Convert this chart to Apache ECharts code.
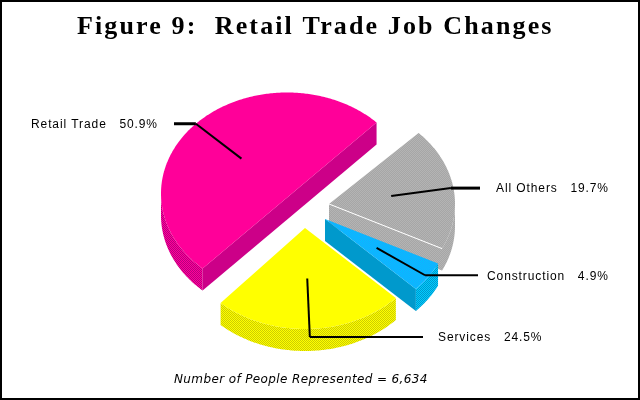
<!DOCTYPE html>
<html><head><meta charset="utf-8">
<style>html,body{margin:0;padding:0;background:#fff}#c{width:640px;height:400px}</style>
<script src="https://cdn.jsdelivr.net/npm/echarts@6/dist/echarts.min.js"></script>
</head><body><div id="c"></div>
<script>
const titleText = 'Figure 9:  Retail Trade Job Changes';
const noteText = 'Number of People Represented = 6,634';
const categories = ['Retail Trade', 'Services', 'Construction', 'All Others'];
const shares = [50.9, 24.5, 4.9, 19.7];

// layout and style, separate from the data
const firstAngle = 44.7, rx = 126, ry = 101, depth = 22;
const apexes = [[287, 193.5], [305, 228], [325, 219], [329, 204]];
const layers = [1, 4, 3, 2];
const topPaint = [['#FF0099', '#FF0099'], ['#FFFF00', '#FFFF00'], ['#00C4FF', '#1AA6FF'], ['#A6A6A6', '#B4B4B4']];
const facePaint = [['#CC0088', '#CC0088'], ['#CCCC00', '#CCCC00'], ['#0099CC', '#0099CC'], ['#A6A6A6', '#B4B4B4']];
const rimPaint = [['#FF0099', '#B8007F'], ['#FFFF00', '#CCCC00'], ['#00CCFF', '#0099CC'], ['#A6A6A6', '#B4B4B4']];
const elbowReach = [1.0, 1.08, 0.97, 0.98];
const leaderEndX = [174, 423, 478, 480];
const leaderWidth = [3, 2, 2, 3];
const labelX = [31, 438, 487, 496];
const labelGap = '   ';

// letter spacing for the wide bitmap-looking type of the reference
const plainFill = CanvasRenderingContext2D.prototype.fillText;
CanvasRenderingContext2D.prototype.fillText = function (t, x, y, m) {
  this.letterSpacing = this.font.includes('bold') ? '2.13px' : (this.font.includes('italic') ? '0.38px' : '0.9px');
  return m === undefined ? plainFill.call(this, t, x, y) : plainFill.call(this, t, x, y, m);
};

function dither(pair) {
  if (pair[0] === pair[1]) return pair[0];
  const c = document.createElement('canvas');
  c.width = c.height = 2;
  const g = c.getContext('2d');
  g.fillStyle = pair[0]; g.fillRect(0, 0, 2, 2);
  g.fillStyle = pair[1]; g.fillRect(0, 0, 1, 1); g.fillRect(1, 1, 1, 1);
  return { image: c, repeat: 'repeat' };
}
const rad = d => d * Math.PI / 180;
const total = shares.reduce((a, b) => a + b, 0);
const spans = []; {
  let a = firstAngle;
  shares.forEach(v => { const s = v / total * 360; spans.push([a, a + s]); a += s; });
}
function rim(c, t, k) { return [c[0] + rx * k * Math.cos(rad(t)), c[1] - ry * k * Math.sin(rad(t))]; }
function arcPts(c, t0, t1) {
  const n = Math.max(2, Math.ceil((t1 - t0) * 1.5)), out = [];
  for (let i = 0; i <= n; i++) out.push(rim(c, t0 + (t1 - t0) * i / n, 1));
  return out;
}
const drop = p => [p[0], p[1] + depth];
function extrude(pts) { return pts.concat(pts.slice().reverse().map(drop)); }
function poly(points, fill, z2) { return { type: 'polygon', z2, shape: { points }, style: { fill, stroke: null } }; }

function renderItem(params, api) {
  const i = params.dataIndex, v = api.value(0);
  const [t0, t1] = spans[i], c = apexes[i], z = layers[i], kids = [];
  const overHalf = t1 - t0 > 180;
  // curved side: only the lower half of the rim faces the viewer
  [[180, 360], [540, 720]].forEach(([lo, hi]) => {
    const a = Math.max(t0, lo), b = Math.min(t1, hi);
    if (b > a) kids.push(poly(extrude(arcPts(c, a, b)), dither(rimPaint[i]), z * 10));
  });
  // radial sides that face downward; a slice just over half has one straight cut
  if (overHalf) {
    kids.push(poly(extrude([rim(c, t0, 1), rim(c, t1, 1)]), dither(facePaint[i]), z * 10 + 1));
  } else {
    if (Math.sin(rad(t0 - 90)) < 0) kids.push(poly(extrude([rim(c, t0, 1), c]), dither(facePaint[i]), z * 10 + 1));
    if (Math.sin(rad(t1 + 90)) < 0) kids.push(poly(extrude([c, rim(c, t1, 1)]), dither(facePaint[i]), z * 10 + 1));
  }
  // top surface
  const arc = arcPts(c, t0, t1);
  kids.push(poly(overHalf ? arc : [c].concat(arc), dither(topPaint[i]), z * 10 + 2));
  // a face painted like its top gets a white edge
  if (facePaint[i][0] === topPaint[i][0]) {
    const e = rim(c, t0, 1);
    kids.push({ type: 'line', z2: z * 10 + 3, shape: { x1: c[0], y1: c[1], x2: e[0], y2: e[1] }, style: { stroke: '#fff', lineWidth: 1 } });
  }
  // leader
  const mid = (t0 + t1) / 2, s = rim(c, mid, 0.5), e = rim(c, mid, elbowReach[i]);
  kids.push({ type: 'polyline', z2: 100, shape: { points: [s, e] }, style: { stroke: '#000', lineWidth: 2, fill: null } });
  kids.push({ type: 'line', z2: 100, shape: { x1: e[0], y1: e[1], x2: leaderEndX[i], y2: e[1] }, style: { stroke: '#000', lineWidth: leaderWidth[i] } });
  kids.push({ type: 'text', z2: 100, x: labelX[i], y: e[1] + 1, style: {
    text: categories[i] + labelGap + v.toFixed(1) + '%', fill: '#000',
    font: '12px "Liberation Sans"', align: 'left', verticalAlign: 'middle' } });
  return { type: 'group', children: kids };
}

const chart = echarts.init(document.getElementById('c'), null, { renderer: 'canvas', width: 640, height: 400 });
chart.setOption({
  animation: false,
  backgroundColor: '#fff',
  title: { text: titleText, left: 77, top: 14, padding: 0,
    textStyle: { fontFamily: 'Liberation Serif', fontWeight: 'bold', fontSize: 26, color: '#000' } },
  graphic: [
    { type: 'rect', silent: true, z: 50, shape: { x: 1, y: 1, width: 638, height: 398 }, style: { fill: 'none', stroke: '#000', lineWidth: 2 } },
    { type: 'text', silent: true, x: 174, y: 380, style: { text: noteText, fill: '#000',
      font: 'italic 12px "DejaVu Sans"', align: 'left', verticalAlign: 'middle' } }
  ],
  series: [{ type: 'custom', coordinateSystem: 'none', silent: true, renderItem, data: shares.map(v => [v]) }]
});
</script></body></html>
